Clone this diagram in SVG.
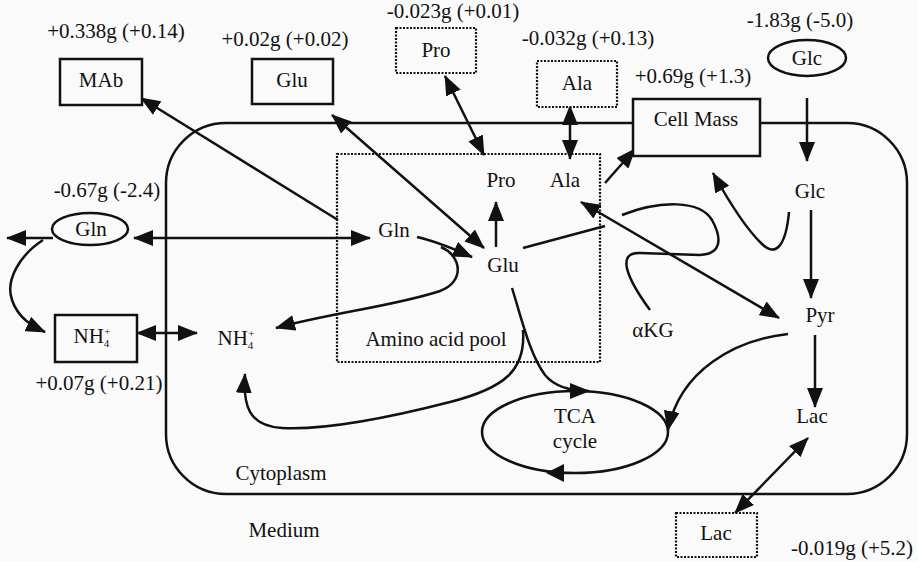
<svg xmlns="http://www.w3.org/2000/svg" width="918" height="562" viewBox="0 0 918 562">
  <defs>
    <marker id="ah" viewBox="0 0 20 16" refX="19" refY="8" markerWidth="20" markerHeight="16" markerUnits="userSpaceOnUse" orient="auto-start-reverse">
      <path d="M0,0 L20,8 L0,16 z" fill="#111"/>
    </marker>
  </defs>
  <style>
    text { font-family: "Liberation Serif", "Times New Roman", serif; font-size: 21px; fill: #111; text-anchor: middle; }
    .box { fill: #fafafa; stroke: #111; stroke-width: 2.5; }
    .dot { fill: #fafafa; stroke: #111; stroke-width: 2.2; stroke-dasharray: 2 1.5; }
    .ln { fill: none; stroke: #111; stroke-width: 2.5; }
    .end { marker-end: url(#ah); }
    .both { marker-start: url(#ah); marker-end: url(#ah); }
    .sm { font-size: 11px; }
  </style>

  <rect x="0" y="0" width="918" height="562" fill="#fafafa"/>

  <!-- cell membrane and amino acid pool -->
  <g id="cell">
    <rect x="166" y="123" width="741" height="371" rx="60" ry="60" class="ln"/>
    <text x="281" y="480">Cytoplasm</text>
    <text x="284" y="537">Medium</text>
  </g>
  <g id="pool">
    <rect x="337" y="154" width="263" height="208" fill="none" stroke="#111" stroke-width="2.2" stroke-dasharray="2 1.5"/>
    <text x="436" y="346">Amino acid pool</text>
  </g>

  <!-- connectors -->
  <g id="connectors">
    <!-- MAb secretion -->
    <path class="ln end" d="M338 220 L141 98"/>
    <!-- Glu exchange with medium -->
    <path class="ln both" d="M332 115 L484 248"/>
    <!-- Pro exchange -->
    <path class="ln both" d="M445 76 L484 155"/>
    <!-- Ala exchange -->
    <path class="ln both" d="M570 106 L570 159"/>
    <!-- Ala to cell mass -->
    <path class="ln end" d="M605 183 L635 149"/>
    <!-- Glc to cell mass -->
    <path class="ln end" d="M789 212 C786 245 776 258 762 244 C745 228 728 200 713 173"/>
    <!-- Glc uptake -->
    <path class="ln end" d="M807 98 L807 161"/>
    <!-- glycolysis -->
    <path class="ln end" d="M811 210 L811 298"/>
    <path class="ln end" d="M815 335 L815 407"/>
    <!-- Lac exchange -->
    <path class="ln both" d="M808 438 L735 513"/>
    <!-- Ala / Pyr transamination -->
    <path class="ln both" d="M581 202 L779 318"/>
    <!-- Glu to Pro -->
    <path class="ln end" d="M496 247 L496 202"/>
    <!-- Gln exchange with medium -->
    <path class="ln both" d="M134 238 L370 238"/>
    <path class="ln end" d="M53 238 L7 238"/>
    <!-- Gln degradation to NH4+ in medium -->
    <path class="ln end" d="M43 240 C20 255 5 280 12 300 C18 318 32 326 45 332"/>
    <!-- NH4+ exchange -->
    <path class="ln both" d="M137 333 L197 333"/>
    <!-- Gln to Glu -->
    <path class="ln end" d="M417 237 C435 241 452 248 472 257"/>
    <!-- Gln to NH4+ branch -->
    <path class="ln end" d="M441 247 C462 256 465 282 440 291 C395 306 330 313 276 328"/>
    <!-- Glu / aKG -->
    <path class="ln" d="M523 248 L605 226"/>
    <path class="ln" d="M622 215 C660 200 700 200 712 220 C722 238 722 254 700 255 L640 253 C615 252 628 280 650 310"/>
    <!-- Glu into TCA cycle -->
    <path class="ln end" d="M512 288 C522 320 530 355 545 375 C555 387 570 391 589 391"/>
    <!-- NH4+ release -->
    <path class="ln end" d="M523 330 C526 370 505 388 450 402 C380 420 320 430 282 428 C248 426 243 405 245 374"/>
    <!-- Pyr into TCA cycle -->
    <path class="ln end" d="M788 334 C735 340 680 370 668 430"/>
  </g>

  <!-- medium pools -->
  <g id="mab">
    <text x="116" y="38">+0.338g (+0.14)</text>
    <rect class="box" x="60" y="59" width="82" height="46"/>
    <text x="101" y="87">MAb</text>
  </g>
  <g id="glu-medium">
    <text x="285" y="46">+0.02g (+0.02)</text>
    <rect class="box" x="252" y="59" width="81" height="45"/>
    <text x="292" y="87">Glu</text>
  </g>
  <g id="pro-medium">
    <text x="453" y="18">-0.023g (+0.01)</text>
    <rect class="dot" x="396" y="28" width="80" height="45"/>
    <text x="436" y="57">Pro</text>
  </g>
  <g id="ala-medium">
    <text x="588" y="45">-0.032g (+0.13)</text>
    <rect class="dot" x="537" y="61" width="80" height="46"/>
    <text x="577" y="90">Ala</text>
  </g>
  <g id="cell-mass">
    <text x="693" y="83">+0.69g (+1.3)</text>
    <rect class="box" x="633" y="99" width="127" height="57"/>
    <text x="696" y="126">Cell Mass</text>
  </g>
  <g id="glc-medium">
    <text x="800" y="27">-1.83g (-5.0)</text>
    <ellipse class="box" cx="807" cy="58" rx="39" ry="18"/>
    <text x="807" y="65">Glc</text>
  </g>
  <g id="gln-medium">
    <text x="107" y="197">-0.67g (-2.4)</text>
    <ellipse class="box" cx="90" cy="229" rx="38" ry="16"/>
    <text x="91" y="236">Gln</text>
  </g>
  <g id="nh4-medium">
    <rect class="box" x="55" y="315" width="82" height="47"/>
    <text x="92" y="343">NH<tspan class="sm" dy="4">4</tspan><tspan class="sm" dx="-5" dy="-12">+</tspan></text>
    <text x="99" y="390">+0.07g (+0.21)</text>
  </g>
  <g id="lac-medium">
    <rect class="dot" x="676" y="513" width="81" height="44"/>
    <text x="716" y="540">Lac</text>
    <text x="852" y="555">-0.019g (+5.2)</text>
  </g>

  <!-- intracellular metabolites -->
  <g id="pro"><text x="501" y="187">Pro</text></g>
  <g id="ala"><text x="565" y="187">Ala</text></g>
  <g id="gln"><text x="394" y="237">Gln</text></g>
  <g id="glu"><text x="503" y="272">Glu</text></g>
  <g id="glc"><text x="810" y="198">Glc</text></g>
  <g id="pyr"><text x="820" y="322">Pyr</text></g>
  <g id="lac"><text x="812" y="423">Lac</text></g>
  <g id="akg"><text x="653" y="337">αKG</text></g>
  <g id="nh4"><text x="236" y="345">NH<tspan class="sm" dy="4">4</tspan><tspan class="sm" dx="-5" dy="-12">+</tspan></text></g>
  <g id="tca">
    <ellipse cx="575" cy="432" rx="93" ry="41" class="ln"/>
    <path d="M546 473 L564 464 L564 482 z" fill="#111"/>
    <text x="575" y="423">TCA</text>
    <text x="575" y="448">cycle</text>
  </g>
</svg>
